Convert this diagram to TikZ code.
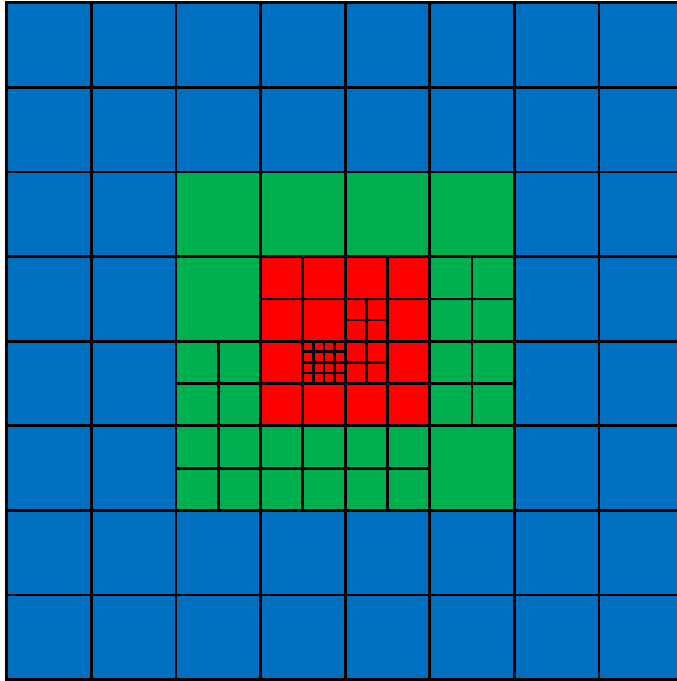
\documentclass[tikz,border=0pt]{standalone}
\definecolor{cblue}{RGB}{0,112,192}
\definecolor{cgreen}{RGB}{0,176,80}
\definecolor{cred}{RGB}{255,0,0}
\begin{document}
\begin{tikzpicture}[
  cellbase/.style={draw=black,line width=2.8pt},
  bluecell/.style={cellbase,fill=cblue},
  greencell/.style={cellbase,fill=cgreen},
  redcell/.style={cellbase,fill=cred}]
\useasboundingbox (0pt,0pt) rectangle (677pt,-681pt);
\fill[white] (0pt,0pt) rectangle (677pt,-681pt);
\clip (0pt,0pt) rectangle (677pt,-681pt);
\begin{scope}[shift={(6.7pt,-2.8pt)},x=84.6pt,y=-84.6pt]
  % blue coarse grid
  \foreach \i in {0,...,8}
    \foreach \j in {0,...,8}
      \filldraw[bluecell] (\i,\j) rectangle ++(1,1);
  % green whole cells
  \foreach \p in {{2,2},{3,2},{4,2},{5,2},{2,3},{5,5}}
    \filldraw[greencell] (\p) rectangle ++(1,1);
  % green cells split 2x2
  \foreach \cx/\cy in {5/3,2/4,5/4,2/5,3/5,4/5}
    \foreach \a in {0,1}
      \foreach \b in {0,1}
        \filldraw[greencell] ({\cx+0.5*\a},{\cy+0.5*\b}) rectangle ++(0.5,0.5);
  % red region: 4x4 half cells
  \foreach \a in {0,...,3}
    \foreach \b in {0,...,3}
      \filldraw[redcell] ({3+0.5*\a},{3+0.5*\b}) rectangle ++(0.5,0.5);
  % red quarter cells
  \foreach \cx/\cy in {4/3.5,4/4}
    \foreach \a in {0,1}
      \foreach \b in {0,1}
        \filldraw[redcell] ({\cx+0.25*\a},{\cy+0.25*\b}) rectangle ++(0.25,0.25);
  % red eighth cells
  \foreach \a in {0,...,3}
    \foreach \b in {0,...,3}
      \filldraw[redcell] ({3.5+0.125*\a},{4+0.125*\b}) rectangle ++(0.125,0.125);
\end{scope}
\end{tikzpicture}
\end{document}
